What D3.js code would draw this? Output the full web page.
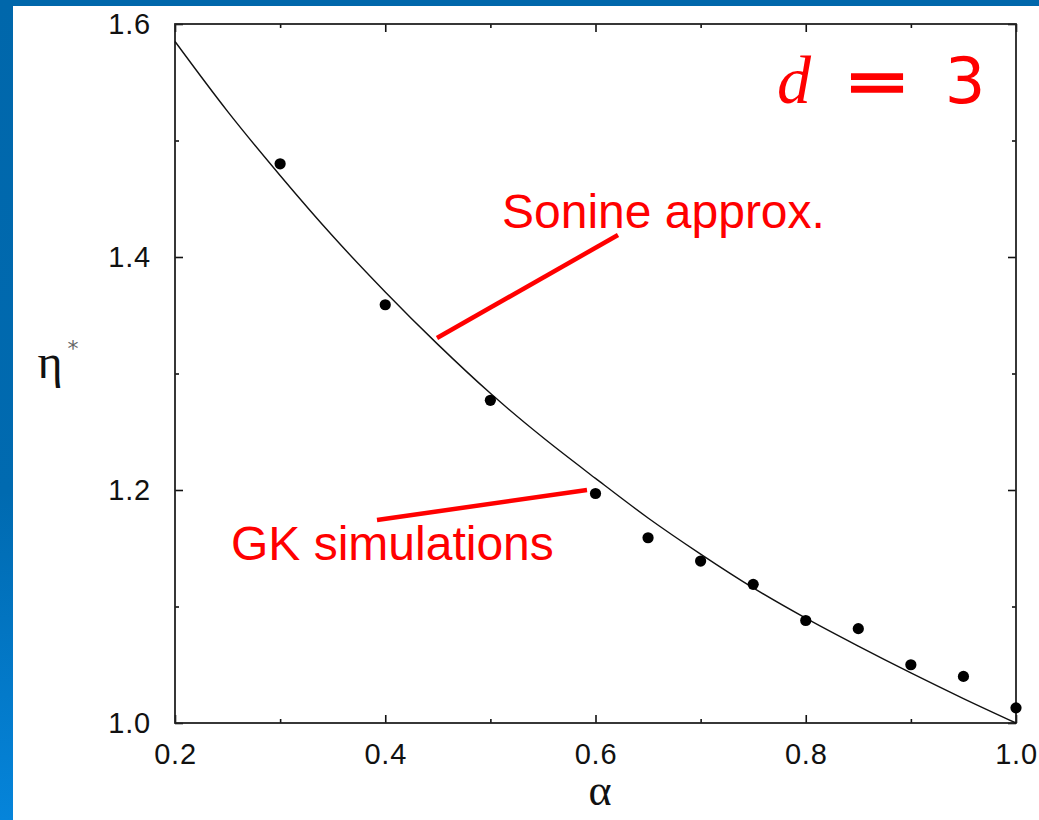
<!DOCTYPE html>
<html>
<head>
<meta charset="utf-8">
<script src="https://cdn.jsdelivr.net/npm/d3@7"></script>
<style>
  html, body { margin: 0; padding: 0; background: #ffffff; }
  svg { display: block; }
</style>
</head>
<body>
<svg id="chart" width="1039" height="820"></svg>
<script>
// Restitution coefficients of the simulation points
const alphaSim = [0.3, 0.4, 0.5, 0.6, 0.65, 0.7, 0.75, 0.8, 0.85, 0.9, 0.95, 1.0];
// Reduced shear viscosity from GK simulations
const etaSim = [1.480, 1.359, 1.277, 1.197, 1.159, 1.139, 1.119, 1.088, 1.081, 1.050, 1.040, 1.013];
// Sonine approximation curve
const alphaTheory = [0.2, 0.25, 0.3, 0.35, 0.4, 0.45, 0.5, 0.55, 0.6, 0.65, 0.7, 0.75, 0.8, 0.85, 0.9, 0.95, 1.0];
const etaTheory = [1.585, 1.525, 1.470, 1.418, 1.370, 1.325, 1.283, 1.245, 1.210, 1.176, 1.145, 1.116, 1.090, 1.066, 1.043, 1.021, 1.000];
// Axis ticks
const xMajorTicks = [0.2, 0.4, 0.6, 0.8, 1.0];
const xMinorTicks = [0.3, 0.5, 0.7, 0.9];
const yMajorTicks = [1.0, 1.2, 1.4, 1.6];
const yMinorTicks = [1.1, 1.3, 1.5];

const svg = d3.select("#chart");
const W = 1039, H = 820;

// Slide backdrop: blue strips on top and left
const defs = svg.append("defs");
const grad = defs.append("linearGradient").attr("id", "sideBlue")
  .attr("x1", 0).attr("y1", 0).attr("x2", 0).attr("y2", 1);
grad.append("stop").attr("offset", "0%").attr("stop-color", "#0067ab");
grad.append("stop").attr("offset", "60%").attr("stop-color", "#006ab0");
grad.append("stop").attr("offset", "100%").attr("stop-color", "#0584da");
svg.append("rect").attr("x", 0).attr("y", 0).attr("width", W).attr("height", H).attr("fill", "#ffffff");
svg.append("rect").attr("x", 0).attr("y", 0).attr("width", W).attr("height", 6).attr("fill", "#0067ab");
svg.append("rect").attr("x", 0).attr("y", 0).attr("width", 13).attr("height", H).attr("fill", "url(#sideBlue)");

const plotLeft = 175, plotRight = 1016, plotTop = 24, plotBottom = 723;
const x = d3.scaleLinear().domain([0.2, 1.0]).range([plotLeft, plotRight]);
const y = d3.scaleLinear().domain([1.0, 1.6]).range([plotBottom, plotTop]);

const fmt = d3.format(".1f");
const tickFont = "'Liberation Sans', Arial, Helvetica, sans-serif";

function styleAxis(g) {
  g.select(".domain").remove();
  g.selectAll(".tick line").attr("stroke", "#111").attr("stroke-width", 1.6);
  g.selectAll(".tick text").attr("fill", "#111")
    .style("font-family", tickFont).style("font-size", "29px")
    .style("letter-spacing", "0.8px");
}

// Major ticks (inward) with labels
svg.append("g").attr("transform", `translate(0,${plotBottom})`)
  .call(d3.axisBottom(x).tickValues(xMajorTicks).tickFormat(fmt).tickSize(-8).tickPadding(20))
  .call(styleAxis);
svg.append("g").attr("transform", `translate(${plotLeft},0)`)
  .call(d3.axisLeft(y).tickValues(yMajorTicks).tickFormat(fmt).tickSize(-8).tickPadding(24))
  .call(styleAxis);
svg.append("g").attr("transform", `translate(0,${plotTop})`)
  .call(d3.axisTop(x).tickValues(xMajorTicks).tickFormat("").tickSize(-8))
  .call(styleAxis);
svg.append("g").attr("transform", `translate(${plotRight},0)`)
  .call(d3.axisRight(y).tickValues(yMajorTicks).tickFormat("").tickSize(-8))
  .call(styleAxis);

// Minor ticks (inward, shorter, no labels)
svg.append("g").attr("transform", `translate(0,${plotBottom})`)
  .call(d3.axisBottom(x).tickValues(xMinorTicks).tickFormat("").tickSize(-4)).call(styleAxis);
svg.append("g").attr("transform", `translate(0,${plotTop})`)
  .call(d3.axisTop(x).tickValues(xMinorTicks).tickFormat("").tickSize(-4)).call(styleAxis);
svg.append("g").attr("transform", `translate(${plotLeft},0)`)
  .call(d3.axisLeft(y).tickValues(yMinorTicks).tickFormat("").tickSize(-4)).call(styleAxis);
svg.append("g").attr("transform", `translate(${plotRight},0)`)
  .call(d3.axisRight(y).tickValues(yMinorTicks).tickFormat("").tickSize(-4)).call(styleAxis);

// Plot frame
svg.append("rect").attr("x", plotLeft).attr("y", plotTop)
  .attr("width", plotRight - plotLeft).attr("height", plotBottom - plotTop)
  .attr("fill", "none").attr("stroke", "#222").attr("stroke-width", 1.8);

// Sonine approximation curve
const theory = alphaTheory.map((a, i) => [a, etaTheory[i]]);
svg.append("path").datum(theory)
  .attr("fill", "none").attr("stroke", "#111").attr("stroke-width", 1.4)
  .attr("d", d3.line().x(d => x(d[0])).y(d => y(d[1])).curve(d3.curveMonotoneX));

// Simulation points
svg.append("g").selectAll("circle")
  .data(alphaSim.map((a, i) => [a, etaSim[i]]))
  .join("circle")
  .attr("cx", d => x(d[0])).attr("cy", d => y(d[1]))
  .attr("r", 5.6).attr("fill", "#000");

// Axis titles
const serif = "'Liberation Serif', 'Times New Roman', serif";
svg.append("text").attr("x", 50).attr("y", 378)
  .attr("text-anchor", "middle")
  .style("font-family", serif).style("font-size", "48px")
  .attr("fill", "#111").text("η");
svg.append("text").attr("x", 73).attr("y", 356)
  .attr("text-anchor", "middle")
  .style("font-family", "'DejaVu Sans', sans-serif").style("font-size", "22px")
  .attr("fill", "#666").text("*");
svg.append("text").attr("x", 600).attr("y", 805)
  .attr("text-anchor", "middle")
  .style("font-family", serif).style("font-size", "44px")
  .attr("fill", "#111").text("α");

// Annotations
const red = "#ff0000";
const annFont = "'Liberation Sans', Arial, Helvetica, sans-serif";
svg.append("line").attr("x1", 437).attr("y1", 338).attr("x2", 618).attr("y2", 235)
  .attr("stroke", red).attr("stroke-width", 4.5);
svg.append("text").attr("x", 502).attr("y", 228)
  .style("font-family", annFont).style("font-size", "48px").attr("fill", red)
  .text("Sonine approx.");
svg.append("line").attr("x1", 377).attr("y1", 520).attr("x2", 587).attr("y2", 490)
  .attr("stroke", red).attr("stroke-width", 4.5);
svg.append("text").attr("x", 231).attr("y", 560)
  .style("font-family", annFont).style("font-size", "48px").attr("fill", red)
  .text("GK simulations");

// d = 3
const dLabel = svg.append("g").attr("fill", red);
dLabel.append("text").attr("x", 794).attr("y", 103).attr("text-anchor", "middle")
  .style("font-family", serif)
  .style("font-style", "italic").style("font-size", "68px").text("d");
dLabel.append("text").attr("x", 877).attr("y", 103).attr("text-anchor", "middle")
  .style("font-family", "'DejaVu Sans', sans-serif").style("font-size", "64px")
  .attr("stroke", red).attr("stroke-width", 1.6)
  .attr("transform", "translate(877,103) scale(1.25,1) translate(-877,-103)")
  .text("=");
dLabel.append("text").attr("x", 965).attr("y", 103).attr("text-anchor", "middle")
  .style("font-family", "'DejaVu Sans', sans-serif").style("font-size", "64px").text("3");
</script>
</body>
</html>
